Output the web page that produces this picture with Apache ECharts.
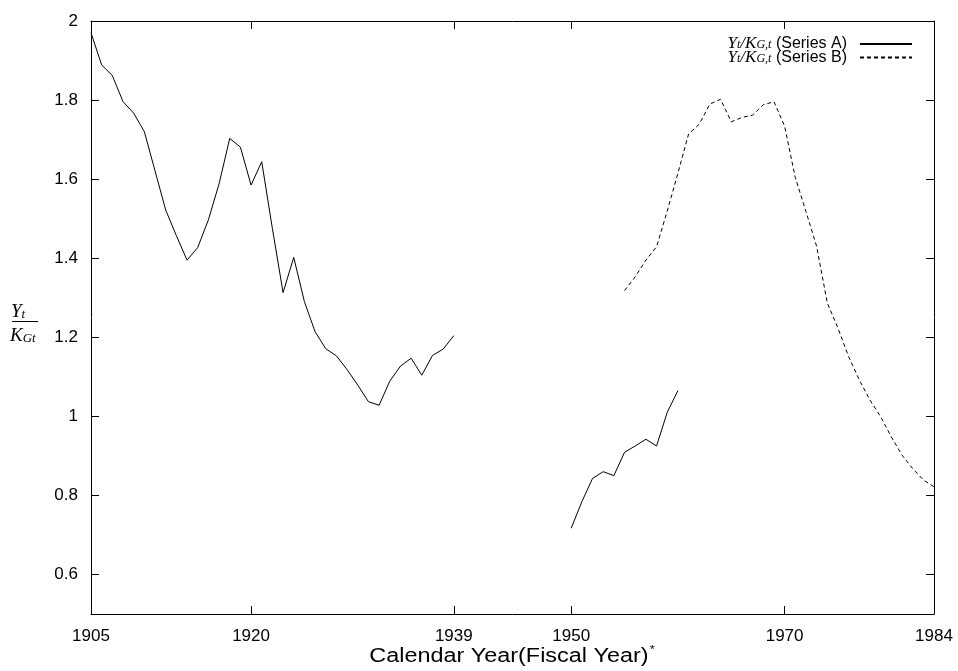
<!DOCTYPE html>
<html>
<head>
<meta charset="utf-8">
<script src="https://cdn.jsdelivr.net/npm/echarts@6/dist/echarts.min.js"></script>
<style>
html,body{margin:0;padding:0;background:#fff;}
#chart{width:958px;height:671px;}
</style>
</head>
<body>
<div id="chart"></div>
<script>
// ---- data ----
const yearsA1 = [1905,1906,1907,1908,1909,1910,1911,1912,1913,1914,1915,1916,1917,1918,1919,1920,1921,1922,1923,1924,1925,1926,1927,1928,1929,1930,1931,1932,1933,1934,1935,1936,1937,1938,1939];
const valuesA1 = [1.970,1.889,1.862,1.796,1.767,1.720,1.621,1.522,1.457,1.395,1.427,1.497,1.588,1.703,1.681,1.585,1.644,1.475,1.313,1.402,1.290,1.214,1.171,1.153,1.118,1.079,1.037,1.028,1.089,1.127,1.147,1.104,1.154,1.170,1.204];
const yearsA2 = [1950,1951,1952,1953,1954,1955,1956,1957,1958,1959,1960];
const valuesA2 = [0.717,0.784,0.843,0.860,0.850,0.909,0.925,0.942,0.925,1.010,1.065];
const yearsB = [1955,1956,1957,1958,1959,1960,1961,1962,1963,1964,1965,1966,1967,1968,1969,1970,1971,1972,1973,1974,1975,1976,1977,1978,1979,1980,1981,1982,1983,1984];
const valuesB = [1.318,1.353,1.395,1.429,1.519,1.615,1.714,1.739,1.790,1.802,1.745,1.756,1.762,1.788,1.796,1.734,1.604,1.518,1.430,1.287,1.223,1.151,1.092,1.041,0.999,0.948,0.902,0.868,0.839,0.822];
const xTicks = [1905,1920,1939,1950,1970,1984];
const yTicks = [0.6,0.8,1.0,1.2,1.4,1.6,1.8,2.0];
const seriesNames = ['Series A','Series B'];
const xTitle = 'Calendar Year(Fiscal Year)';

// ---- build ----
const dataA = yearsA1.map((y,i)=>[y,valuesA1[i]])
  .concat([[1944.5,null]])
  .concat(yearsA2.map((y,i)=>[y,valuesA2[i]]));
const dataB = yearsB.map((y,i)=>[y,valuesB[i]]);

const SANS = 'Liberation Sans';
const SERIF = 'Liberation Serif';
const rich = {
  i:{fontFamily:SERIF,fontStyle:'italic',fontSize:17,lineHeight:14,color:'#000'},
  s:{fontFamily:SERIF,fontStyle:'italic',fontSize:12,lineHeight:14,verticalAlign:'bottom',padding:[4,0,0,0],color:'#000'},
  n:{fontFamily:SANS,fontSize:16,lineHeight:14,color:'#000'}
};

const axisCommon = {
  axisLine:{show:true,onZero:false,lineStyle:{color:'#000',width:1}},
  splitLine:{show:false}
};

const chart = echarts.init(document.getElementById('chart'),null,{renderer:'canvas'});
chart.setOption({
  animation:false,
  backgroundColor:'#fff',
  grid:{left:91,right:24,top:21,bottom:57,containLabel:false,outerBoundsMode:'none'},
  legend:{
    orient:'vertical',
    right:40,
    top:30,
    align:'right',
    itemWidth:52,
    itemHeight:12,
    itemGap:-4,
    data:seriesNames,
    itemStyle:{opacity:0},
    formatter:function(name){ return '{i|Y}{s|t}{i|/K}{s|G,t}{n| (' + name + ')}'; },
    textStyle:{rich:rich,padding:[0,8,0,0],fontSize:16,fontFamily:SANS,color:'#000'}
  },
  xAxis:[
    Object.assign({},axisCommon,{
      type:'value',min:1905,max:1984,position:'bottom',
      axisTick:{show:true,inside:true,length:8,customValues:xTicks,lineStyle:{color:'#000'}},
      axisLabel:{show:true,customValues:xTicks,margin:14,fontFamily:SANS,fontSize:17,color:'#000',showMinLabel:true,showMaxLabel:true,
        formatter:function(v){ return String(v); }}
    }),
    Object.assign({},axisCommon,{
      type:'value',min:1905,max:1984,position:'top',
      axisTick:{show:true,inside:true,length:8,customValues:xTicks,lineStyle:{color:'#000'}},
      axisLabel:{show:false}
    })
  ],
  yAxis:[
    Object.assign({},axisCommon,{
      type:'value',min:0.5,max:2.0,position:'left',
      axisTick:{show:true,inside:true,length:8,customValues:yTicks,lineStyle:{color:'#000'}},
      axisLabel:{show:true,customValues:yTicks,margin:13,fontFamily:SANS,fontSize:17,color:'#000',
        formatter:function(v){ return String(+(+v).toFixed(1)); }}
    }),
    Object.assign({},axisCommon,{
      type:'value',min:0.5,max:2.0,position:'right',
      axisTick:{show:true,inside:true,length:8,customValues:yTicks,lineStyle:{color:'#000'}},
      axisLabel:{show:false}
    })
  ],
  graphic:[
    {type:'text',x:512,y:656,scaleX:1.17,style:{text:'{t|'+xTitle+'}{sup|*}',align:'center',verticalAlign:'middle',rich:{
      t:{fontFamily:SANS,fontSize:20,color:'#000'},
      sup:{fontFamily:SANS,fontSize:11,verticalAlign:'top',padding:[0,0,12,1],color:'#000'}}}},
    {type:'text',left:11,top:302,style:{text:'{i|Y}{s|t}',rich:{
      i:{fontFamily:SERIF,fontStyle:'italic',fontSize:19,color:'#000'},
      s:{fontFamily:SERIF,fontStyle:'italic',fontSize:13,verticalAlign:'bottom',padding:[6,0,0,0],color:'#000'}}}},
    {type:'line',shape:{x1:12,y1:321.5,x2:38,y2:321.5},style:{stroke:'#000',lineWidth:1}},
    {type:'text',left:10,top:326,style:{text:'{i|K}{s|Gt}',rich:{
      i:{fontFamily:SERIF,fontStyle:'italic',fontSize:19,color:'#000'},
      s:{fontFamily:SERIF,fontStyle:'italic',fontSize:13,verticalAlign:'bottom',padding:[6,0,0,0],color:'#000'}}}}
  ],
  series:[
    {name:seriesNames[0],type:'line',xAxisIndex:0,yAxisIndex:0,data:dataA,showSymbol:false,symbol:'none',connectNulls:false,
      lineStyle:{color:'#000',width:1,type:'solid'},itemStyle:{color:'#000'}},
    {name:seriesNames[1],type:'line',xAxisIndex:0,yAxisIndex:0,data:dataB,showSymbol:false,symbol:'none',
      lineStyle:{color:'#000',width:1,type:[4,3]},itemStyle:{color:'#000'}}
  ]
});
</script>
</body>
</html>
